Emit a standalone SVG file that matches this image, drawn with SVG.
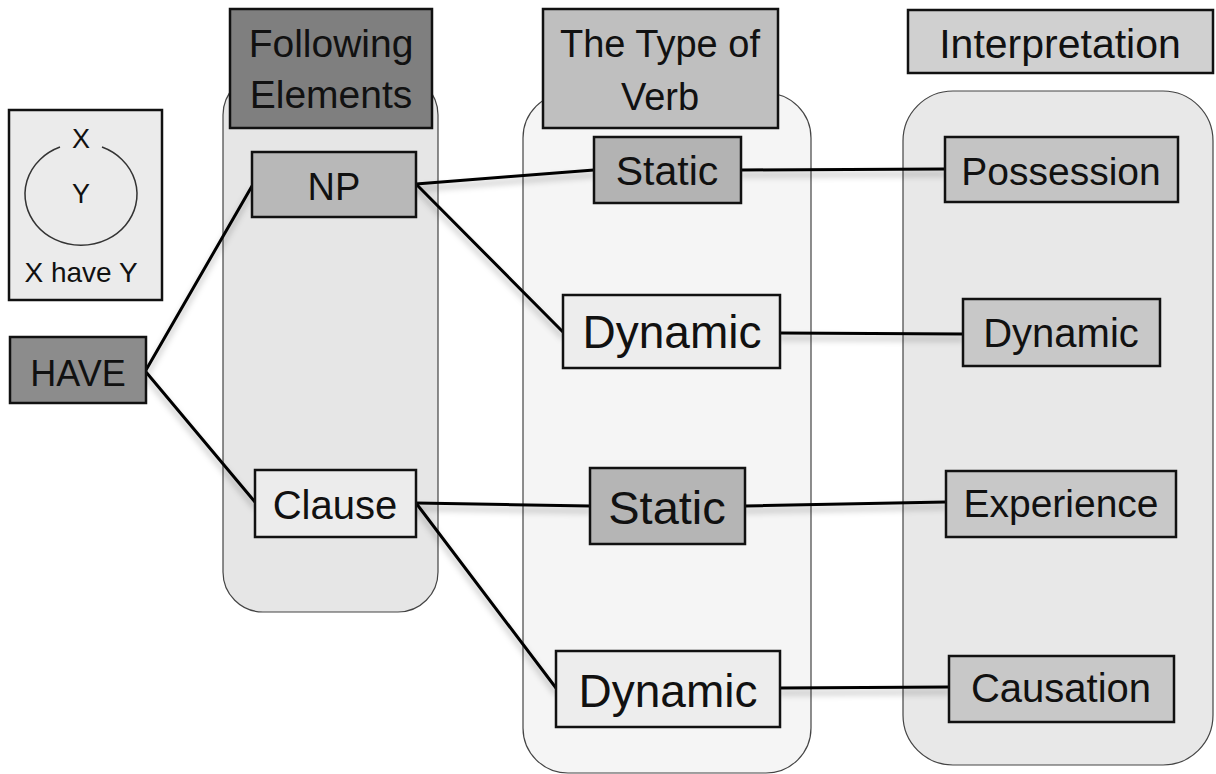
<svg xmlns="http://www.w3.org/2000/svg" width="1216" height="774" viewBox="0 0 1216 774">
<style>
.t{font-family:"Liberation Sans",Arial,sans-serif;fill:#111;text-anchor:middle}
.box{stroke:#111;stroke-width:2.5}
.panel{stroke:#444;stroke-width:1.2}
.conn{stroke:#000;stroke-width:3;fill:none;stroke-linecap:round}
</style>
<defs>
<filter id="sh" x="-20%" y="-20%" width="140%" height="160%">
<feDropShadow dx="0" dy="5" stdDeviation="3" flood-color="#000" flood-opacity="0.3"/>
</filter>
</defs>
<rect width="1216" height="774" fill="#fff"/>
<g id="panels">
<rect class="panel" x="223" y="75" width="215" height="537" rx="40" fill="#e6e6e6"/>
<rect class="panel" x="523" y="93" width="288" height="680" rx="45" fill="#f5f5f5"/>
<rect class="panel" x="903" y="91" width="310" height="674" rx="50" fill="#e8e8e8"/>
</g>
<g id="connectors" filter="url(#sh)">
<line class="conn" x1="146" y1="370" x2="252" y2="186"/>
<line class="conn" x1="146" y1="372" x2="255" y2="502"/>
<line class="conn" x1="416" y1="184" x2="594" y2="170"/>
<line class="conn" x1="416" y1="184" x2="563" y2="332"/>
<line class="conn" x1="741" y1="170" x2="945" y2="169"/>
<line class="conn" x1="780" y1="333" x2="963" y2="334"/>
<line class="conn" x1="416" y1="503" x2="590" y2="506"/>
<line class="conn" x1="416" y1="503" x2="556" y2="688"/>
<line class="conn" x1="745" y1="506" x2="946" y2="502"/>
<line class="conn" x1="780" y1="688" x2="949" y2="687"/>
</g>
<g id="legend">
<rect class="box" x="9" y="110" width="153" height="190" fill="#ebebeb"/>
<path d="M 60 147 A 56 51 0 1 0 102 147" fill="none" stroke="#333" stroke-width="1.5"/>
<text class="t" x="81" y="148" font-size="27">X</text>
<text class="t" x="81" y="203" font-size="27">Y</text>
<text class="t" x="81" y="282" font-size="28">X have Y</text>
</g>
<g id="have">
<rect class="box" x="10" y="337" width="136" height="66" fill="#8c8c8c"/>
<text class="t" x="78" y="386" font-size="36">HAVE</text>
</g>
<g id="hdr-following">
<rect class="box" x="230" y="9" width="202" height="119" fill="#7f7f7f"/>
<text class="t" x="331" y="57" font-size="39">Following</text>
<text class="t" x="331" y="108" font-size="39">Elements</text>
</g>
<g id="hdr-verb">
<rect class="box" x="543" y="9" width="235" height="119" fill="#bfbfbf"/>
<text class="t" x="660" y="57" font-size="38">The Type of</text>
<text class="t" x="660" y="110" font-size="38">Verb</text>
</g>
<g id="hdr-interp">
<rect class="box" x="908" y="10" width="305" height="63" fill="#d0d0d0"/>
<text class="t" x="1060" y="58" font-size="41">Interpretation</text>
</g>
<g id="np">
<rect class="box" x="252" y="152" width="164" height="65" fill="#b8b8b8"/>
<text class="t" x="334" y="200" font-size="38">NP</text>
</g>
<g id="clause">
<rect class="box" x="255" y="470" width="161" height="67" fill="#ececec"/>
<text class="t" x="335" y="519" font-size="40">Clause</text>
</g>
<g id="static1">
<rect class="box" x="594" y="137" width="147" height="66" fill="#b3b3b3"/>
<text class="t" x="667" y="185" font-size="41">Static</text>
</g>
<g id="dynamic1">
<rect class="box" x="563" y="295" width="217" height="73" fill="#ededed"/>
<text class="t" x="672" y="348" font-size="46">Dynamic</text>
</g>
<g id="static2">
<rect class="box" x="590" y="468" width="155" height="76" fill="#b5b5b5"/>
<text class="t" x="667" y="524" font-size="47">Static</text>
</g>
<g id="dynamic2">
<rect class="box" x="556" y="651" width="224" height="76" fill="#ededed"/>
<text class="t" x="668" y="707" font-size="46">Dynamic</text>
</g>
<g id="possession">
<rect class="box" x="945" y="137" width="233" height="65" fill="#c4c4c4"/>
<text class="t" x="1061" y="185" font-size="39">Possession</text>
</g>
<g id="dynamic3">
<rect class="box" x="963" y="299" width="197" height="67" fill="#c8c8c8"/>
<text class="t" x="1061" y="347" font-size="40">Dynamic</text>
</g>
<g id="experience">
<rect class="box" x="946" y="471" width="230" height="66" fill="#c8c8c8"/>
<text class="t" x="1061" y="517" font-size="39">Experience</text>
</g>
<g id="causation">
<rect class="box" x="949" y="656" width="225" height="66" fill="#c8c8c8"/>
<text class="t" x="1061" y="702" font-size="40">Causation</text>
</g>
</svg>
